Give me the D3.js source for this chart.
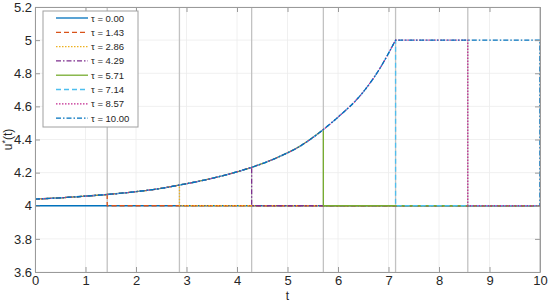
<!DOCTYPE html>
<html>
<head>
<meta charset="utf-8">
<script src="https://cdn.jsdelivr.net/npm/d3@7"></script>
<style>
  body { margin: 0; background: #fff; }
  svg { font-family: "Liberation Sans", Arial, sans-serif; }
</style>
</head>
<body>
<svg id="chart" width="550" height="302"></svg>
<script>
// switching times and line styles
var taus = [0.00, 1.43, 2.86, 4.29, 5.71, 7.14, 8.57, 10.00]
var colors = ["#0072BD", "#D95319", "#EDB120", "#7E2F8E", "#77AC30", "#4DBEEE", "#C2288F", "#0072BD"]
var dashes = ["none", "5,3", "1.5,1.5", "5,2,1.5,2", "none", "5,3", "1.5,1.5", "5,2,1.5,2"]

// the rising curve (t, u)
var curveT = [0, 0.5, 1, 1.43, 2, 2.5, 2.86, 3.5, 4, 4.29, 4.75, 5.25, 5.71, 6, 6.44, 6.8, 7.14]
var curveU = [4.040, 4.048, 4.058, 4.068, 4.085, 4.105, 4.125, 4.165, 4.205, 4.232, 4.285, 4.36, 4.46, 4.535, 4.665, 4.815, 5.0]
var baseU = 4
var capU = 5

var xTicks = [0, 1, 2, 3, 4, 5, 6, 7, 8, 9, 10]
var yTicks = [3.6, 3.8, 4, 4.2, 4.4, 4.6, 4.8, 5, 5.2]

var margin = { top: 7, right: 10, bottom: 30, left: 35 },
    width = 540 - margin.left,
    height = 272 - margin.top;

var svg = d3.select("#chart")
var g = svg.append("g")
    .attr("transform", "translate(" + margin.left + "," + margin.top + ")");

var xScale = d3.scaleLinear().domain([0, 10]).range([0, width])
var yScale = d3.scaleLinear().domain([3.6, 5.2]).range([height, 0])

// light grid
g.append("g").selectAll("line").data(xTicks).enter().append("line")
    .attr("x1", d => xScale(d)).attr("x2", d => xScale(d))
    .attr("y1", 0).attr("y2", height)
    .attr("stroke", "#ececec").attr("stroke-width", 0.8)
g.append("g").selectAll("line").data(yTicks).enter().append("line")
    .attr("y1", d => yScale(d)).attr("y2", d => yScale(d))
    .attr("x1", 0).attr("x2", width)
    .attr("stroke", "#ececec").attr("stroke-width", 0.8)

// switch time markers
g.append("g").selectAll("line").data(taus.slice(1)).enter().append("line")
    .attr("x1", d => xScale(d)).attr("x2", d => xScale(d))
    .attr("y1", 0).attr("y2", height)
    .attr("stroke", "#c2c2c2").attr("stroke-width", 1.3)

// curve part until tau (smooth), then the step back down to base
function curvePart(tau) {
    var pts = []
    if (tau === 0) return pts
    curveT.forEach(function (t, i) {
        if (t <= tau + 1e-9) pts.push([t, curveU[i]])
    })
    return pts
}
function stepPart(tau) {
    if (tau === 0) return [[0, baseU], [10, baseU]]
    var cp = curvePart(tau)
    var pts = [cp[cp.length - 1]]
    var last = curveT[curveT.length - 1]
    if (tau > last) pts.push([tau, capU])
    pts.push([tau, baseU])
    if (tau < 10) pts.push([10, baseU])
    return pts
}

var smooth = d3.line()
    .x(d => xScale(d[0]))
    .y(d => yScale(d[1]))
    .curve(d3.curveMonotoneX)
var straight = d3.line()
    .x(d => xScale(d[0]))
    .y(d => yScale(d[1]))

function pathFor(tau) {
    var cp = curvePart(tau)
    var sp = stepPart(tau)
    var s = straight(sp)
    if (cp.length < 2) return s
    return smooth(cp) + "L" + s.slice(s.indexOf("L") + 1)
}

g.append("g").selectAll("path").data(taus).enter().append("path")
    .attr("d", d => pathFor(d))
    .attr("fill", "none")
    .attr("stroke", (d, i) => colors[i])
    .attr("stroke-dasharray", (d, i) => dashes[i])
    .attr("stroke-width", 1.3)

// axes with inward ticks
var xAxis = g.append("g")
    .attr("transform", "translate(0," + height + ")")
    .call(d3.axisBottom(xScale).tickValues(xTicks).tickSizeInner(-5).tickSizeOuter(0).tickPadding(4).tickFormat(d3.format("d")))
var xAxisTop = g.append("g")
    .call(d3.axisTop(xScale).tickValues(xTicks).tickSizeInner(-5).tickSizeOuter(0).tickFormat(""))
var yAxis = g.append("g")
    .call(d3.axisLeft(yScale).tickValues(yTicks).tickSizeInner(-5).tickSizeOuter(0).tickPadding(3).tickFormat(d => +d.toFixed(1)))
var yAxisRight = g.append("g")
    .attr("transform", "translate(" + width + ",0)")
    .call(d3.axisRight(yScale).tickValues(yTicks).tickSizeInner(-5).tickSizeOuter(0).tickFormat(""))

;[xAxis, xAxisTop, yAxis, yAxisRight].forEach(function (a) {
    a.select(".domain").attr("stroke", "#9a9a9a")
    a.selectAll(".tick line").attr("stroke", "#9a9a9a")
    a.selectAll(".tick text").attr("fill", "#262626").style("font-size", "13px")
        .style("font-family", "'Liberation Sans', Arial, sans-serif")
})

// axis labels
svg.append("text")
    .attr("x", margin.left + width / 2).attr("y", 300)
    .attr("text-anchor", "middle")
    .attr("fill", "#262626").style("font-size", "12px")
    .text("t")

var ylab = svg.append("text")
    .attr("transform", "translate(12," + (margin.top + height / 2) + ") rotate(-90)")
    .attr("text-anchor", "middle")
    .attr("fill", "#262626").style("font-size", "12px")
ylab.append("tspan").text("u")
ylab.append("tspan").attr("dy", -4).style("font-size", "9px").text("*")
ylab.append("tspan").attr("dy", 4).text("(t)")

// legend
var legend = svg.append("g")
    .attr("class", "legend")
    .attr("transform", "translate(43,11)")

legend.append("rect")
    .attr("width", 95).attr("height", 116)
    .attr("fill", "#fff").attr("stroke", "#a0a0a0").attr("stroke-width", 1)

var items = legend.selectAll("g.item").data(taus).enter().append("g")
    .attr("class", "item")
    .attr("transform", (d, i) => "translate(0," + (7 + i * 14.3) + ")")

items.append("line")
    .attr("x1", 13).attr("x2", 45).attr("y1", 0).attr("y2", 0)
    .attr("stroke", (d, i) => colors[i])
    .attr("stroke-dasharray", (d, i) => dashes[i])
    .attr("stroke-width", 1.3)

items.append("text")
    .attr("x", 48).attr("y", 3.5)
    .attr("fill", "#262626").style("font-size", "9.5px")
    .text(d => "\u03C4 = " + d.toFixed(2))
</script>
</body>
</html>
